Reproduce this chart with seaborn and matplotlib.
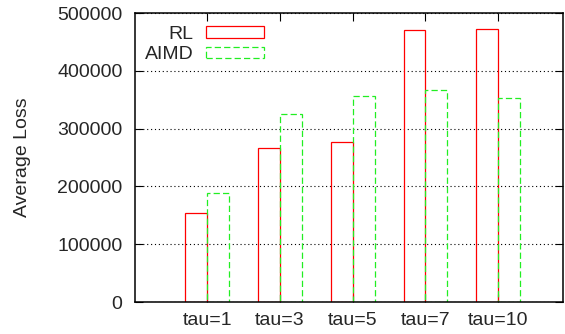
import matplotlib
matplotlib.use("Agg")
import matplotlib.pyplot as plt
import seaborn as sns
import pandas as pd

# Average loss per tau setting for the two congestion-control schemes
categories = ["tau=1", "tau=3", "tau=5", "tau=7", "tau=10"]
rl_loss = [153700, 267000, 276000, 470000, 471800]
aimd_loss = [188400, 325300, 357000, 366900, 353000]
methods = ["RL", "AIMD"]
y_ticks = [0, 100000, 200000, 300000, 400000, 500000]

df = pd.DataFrame({
    "tau": categories * 2,
    "loss": rl_loss + aimd_loss,
    "method": [methods[0]] * len(categories) + [methods[1]] * len(categories),
})

sns.set_theme(style="white")
plt.rcParams["font.family"] = ["Liberation Sans", "DejaVu Sans"]
plt.rcParams["font.size"] = 14

fig = plt.figure(figsize=(5.65, 3.34), dpi=100)
ax = fig.add_axes([0.239, 0.0958, 0.7575, 0.8652])

colors = {"RL": "#ff0000", "AIMD": "#22ee22"}
sns.barplot(data=df, x="tau", y="loss", hue="method", hue_order=methods,
            order=categories, palette=colors, fill=False, width=0.6,
            linewidth=0.9, legend=False, ax=ax, err_kws={"linewidth": 0})

styles = {"RL": "-", "AIMD": (0, (5, 2.5))}
for container, name in zip(ax.containers, methods):
    container.set_label(name)
    for patch in container:
        patch.set_edgecolor(colors[name])
        patch.set_facecolor("none")
        patch.set_linestyle(styles[name])
        patch.set_linewidth(0.9)

ax.set_ylim(0, 500000)
ax.set_xlim(-0.99, 4.89)
ax.set_yticks(y_ticks)
ax.set_yticklabels([str(v) for v in y_ticks])
ax.set_xlabel("")
ax.set_ylabel("Average Loss", fontsize=14, labelpad=19)

ax.yaxis.grid(True, color="black", linestyle=(0, (1, 2.5)), linewidth=0.8)
ax.xaxis.grid(False)
ax.set_axisbelow(True)

for s in ax.spines.values():
    s.set_visible(True)
    s.set_color("black")
    s.set_linewidth(1.1)

ax.tick_params(axis="both", which="major", direction="in", length=6,
               width=0.8, color="black", labelsize=14,
               top=True, right=True, bottom=True, left=True)
ax.tick_params(axis="y", pad=9)
ax.tick_params(axis="x", pad=7)

ax.legend(handles=ax.containers[:2], labels=methods, loc="upper left",
          bbox_to_anchor=(0.023, 0.955), frameon=False, markerfirst=False,
          borderpad=0, borderaxespad=0, handlelength=3.0, handleheight=0.53,
          handletextpad=0.63, labelspacing=0.16, fontsize=14)

fig.savefig("out.png", dpi=100)
